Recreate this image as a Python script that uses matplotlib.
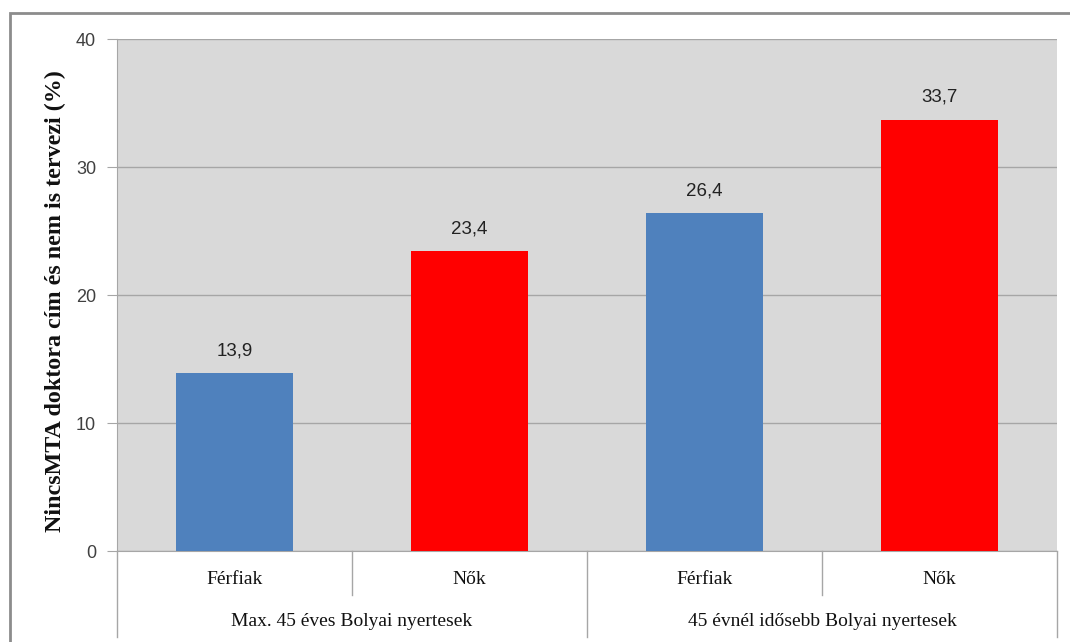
import matplotlib
matplotlib.use("Agg")
import matplotlib.pyplot as plt
import matplotlib.transforms as mtransforms
from matplotlib.patches import Rectangle

categories = ["Férfiak", "Nők", "Férfiak", "Nők"]
groups = ["Max. 45 éves Bolyai nyertesek", "45 évnél idősebb Bolyai nyertesek"]
values = [13.9, 23.4, 26.4, 33.7]
value_labels = ["13,9", "23,4", "26,4", "33,7"]
colors = ["#4f81bd", "#ff0000", "#4f81bd", "#ff0000"]
yticks = [0, 10, 20, 30, 40]
ylabel = "NincsMTA doktora cím és nem is tervezi (%)"

fig = plt.figure(figsize=(10.7, 6.42), dpi=100)
W, H = 1070, 642
ax = fig.add_axes([117 / W, 1 - 551 / H, (1057 - 117) / W, (551 - 39) / H])
ax.set_facecolor("#d9d9d9")

x = list(range(len(values)))
ax.bar(x, values, width=0.5, color=colors, zorder=3)
ax.set_xlim(-0.5, len(values) - 0.5)
ax.set_ylim(0, 40)
ax.set_yticks(yticks)
ax.set_yticklabels([str(t) for t in yticks], fontfamily="Liberation Sans", fontsize=13, color="#404040")
ax.yaxis.grid(True, color="#a6a6a6", lw=1, zorder=1)
ax.tick_params(axis="y", length=7, color="#a6a6a6", pad=8)
ax.set_xticks([])
for s in ["top", "right"]:
    ax.spines[s].set_visible(False)
ax.spines["left"].set_color("#a6a6a6")
ax.spines["bottom"].set_color("#a6a6a6")

for xi, v, lab in zip(x, values, value_labels):
    ax.annotate(lab, (xi, v), xytext=(0, 10), textcoords="offset points",
                ha="center", va="bottom", fontfamily="Liberation Sans", fontsize=13.5, color="#222222")

trans = mtransforms.blended_transform_factory(ax.transData, ax.transAxes)
short_y = -(595 - 551) / 512
long_y = -(637 - 551) / 512
for i in range(len(values) + 1):
    sep = i - 0.5
    yb = long_y if i % 2 == 0 else short_y
    ax.plot([sep, sep], [0, yb], transform=trans, color="#a6a6a6", lw=1, clip_on=False)

for xi, c in zip(x, categories):
    ax.text(xi, -(580 - 551) / 512, c, transform=trans, ha="center", va="center",
            fontfamily="Liberation Serif", fontsize=14, color="#111111")
for gi, g in enumerate(groups):
    ax.text(2 * gi + 0.5, -(622 - 551) / 512, g, transform=trans, ha="center", va="center",
            fontfamily="Liberation Serif", fontsize=14, color="#111111")

fig.text(55 / W, 1 - 301 / H, ylabel, rotation=90, ha="center", va="center",
         fontfamily="Liberation Serif", fontweight="bold", fontsize=17.3, color="#111111")

fig.patches.append(Rectangle((10 / W, -0.1), 1.2, 1 - 13 / H + 0.1, transform=fig.transFigure,
                             fill=False, edgecolor="#8c8c8c", lw=2))

fig.savefig("out.png", dpi=100)
